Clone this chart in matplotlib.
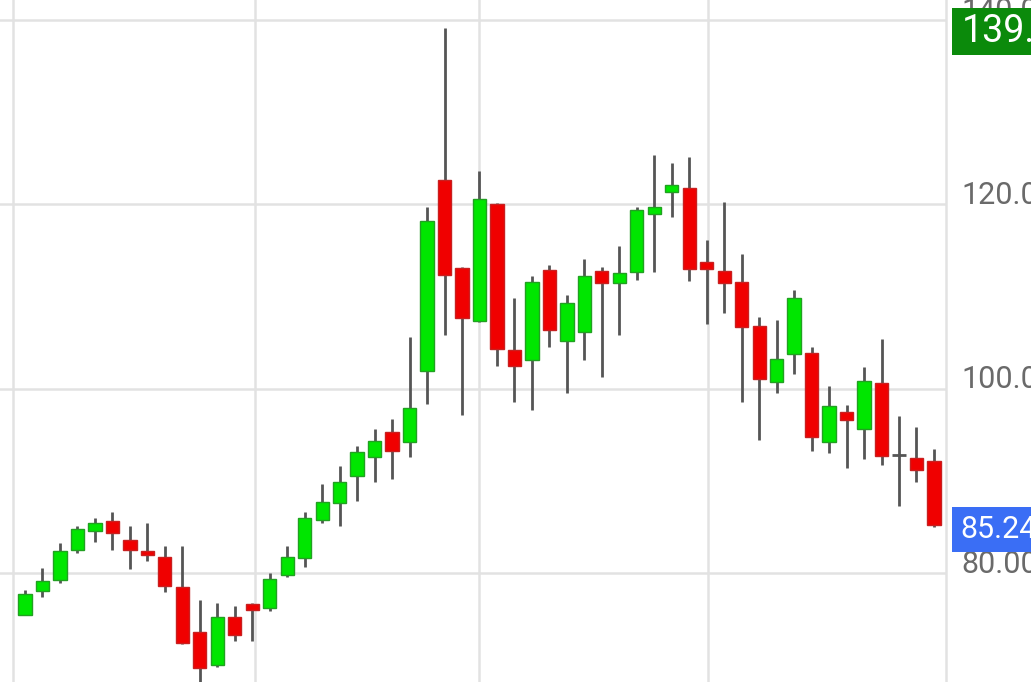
import numpy as np
import matplotlib.pyplot as plt
from matplotlib.patches import Rectangle

# OHLC weekly candles
opens = [75.5, 78.05, 79.2, 82.5, 84.6, 85.6, 83.6, 82.4, 81.7, 78.5,
         73.6, 70.0, 75.2, 76.6, 76.2, 79.8, 81.6, 85.8, 87.6, 90.5,
         92.6, 95.3, 94.2, 101.9, 122.6, 113.1, 107.3, 120.0, 104.2, 103.1,
         112.9, 105.2, 106.2, 112.8, 111.5, 112.7, 119.0, 121.3, 121.8, 113.7,
         112.8, 111.6, 106.8, 100.7, 103.8, 103.9, 94.2, 97.5, 95.6, 100.6,
         92.8, 92.5, 92.2]
highs = [78.2, 80.5, 83.3, 85.1, 86.0, 86.6, 85.1, 85.4, 82.9, 82.9,
         77.1, 76.8, 76.4, 76.8, 80.0, 82.9, 86.6, 89.7, 91.6, 93.8,
         95.6, 96.7, 105.6, 119.7, 139.1, 113.2, 123.6, 120.1, 109.8, 112.2,
         113.4, 110.2, 114.1, 113.2, 115.5, 119.7, 125.4, 124.5, 125.1, 116.1,
         120.3, 114.6, 107.8, 107.5, 110.7, 104.5, 100.3, 98.2, 102.4, 105.4,
         97.0, 95.8, 93.5]
lows = [75.4, 77.4, 78.9, 82.2, 83.4, 82.5, 80.4, 81.3, 77.9, 72.3,
        67.5, 69.8, 72.6, 72.6, 75.9, 79.6, 80.7, 85.4, 85.1, 87.8,
        89.9, 90.2, 92.6, 98.3, 105.8, 97.1, 107.2, 102.5, 98.6, 97.7,
        104.5, 99.5, 103.1, 101.3, 105.8, 111.8, 112.7, 118.6, 111.7, 107.0,
        108.2, 98.6, 94.4, 99.5, 101.6, 93.2, 93.0, 91.4, 92.4, 91.7,
        87.3, 89.9, 85.0]
closes = [77.7, 79.1, 82.4, 84.8, 85.4, 84.3, 82.5, 82.0, 78.6, 72.4,
          69.7, 75.2, 73.3, 76.0, 79.4, 81.7, 86.0, 87.7, 89.9, 93.1,
          94.3, 93.2, 97.9, 118.2, 112.3, 107.7, 120.6, 104.3, 102.5, 111.6,
          106.4, 109.3, 112.2, 111.5, 112.6, 119.4, 119.7, 122.1, 113.0, 113.0,
          111.5, 106.7, 101.1, 103.2, 109.8, 94.8, 98.1, 96.6, 100.8, 92.7,
          92.8, 91.2, 85.24]

y_ticks = [80, 100, 120, 140]
y_labels = ['80.00', '100.00', '120.00', '140.00']
quarter_lines = [-0.7, 13.15, 26.0, 39.05]
last_high = '139.1'
last_close = '85.24'

up_face, up_edge = '#00e600', '#22a022'
dn_face, dn_edge = '#f00000', '#c82020'
wick_col = '#555555'
grid_col = '#e2e2e2'

W, H = 1031, 682
fig = plt.figure(figsize=(W / 100, H / 100), dpi=100)
ax = fig.add_axes([0, 0, 946 / W, 1])
ax.set_xlim(-1.43, 52.69)
ax.set_ylim(68.18, 142.17)

for v in y_ticks:
    ax.axhline(v, color=grid_col, lw=1.8, zorder=0)
for q in quarter_lines:
    ax.axvline(q, color=grid_col, lw=1.8, zorder=0)

x = np.arange(len(opens))
o = np.array(opens)
c = np.array(closes)
ax.vlines(x, lows, highs, color=wick_col, lw=2.0, zorder=1)

up = c > o
dn = c < o
body_w = 0.76
ax.bar(x[up], (c - o)[up], bottom=o[up], width=body_w,
       color=up_face, edgecolor=up_edge, lw=1.0, zorder=2)
ax.bar(x[dn], (o - c)[dn], bottom=c[dn], width=body_w,
       color=dn_face, edgecolor=dn_edge, lw=1.0, zorder=2)
# doji
for i in x[c == o]:
    ax.hlines(o[i], i - body_w / 2, i + body_w / 2, color=wick_col, lw=2.0, zorder=2)

for s in ['top', 'left', 'bottom']:
    ax.spines[s].set_visible(False)
ax.spines['right'].set_color(grid_col)
ax.spines['right'].set_linewidth(1.8)
ax.set_xticks([])
ax.set_yticks([])

# price scale labels on the right (cut off by the figure edge)
to_fig = lambda v: (v - 68.18) / (142.17 - 68.18)
for v, lab in zip(y_ticks, y_labels):
    fig.text(961 / W, to_fig(v + 0.95), lab, fontsize=22, color='#6a6a6a',
             family='Roboto', va='center', ha='left', zorder=1)

# last-value tags
fig.add_artist(Rectangle((952 / W, 1 - 55 / H), 80 / W, 47 / H,
                         transform=fig.transFigure, fc='#0b8a0b', ec='none', zorder=3))
fig.text(962 / W, 1 - 32 / H, last_high, fontsize=27, color='white',
         family='Roboto', va='center', ha='left', zorder=4)
fig.add_artist(Rectangle((952 / W, 1 - 552 / H), 80 / W, 45 / H,
                         transform=fig.transFigure, fc='#3a6ef5', ec='none', zorder=3))
fig.text(960 / W, 1 - 530 / H, last_close, fontsize=22, color='white',
         family='Roboto', va='center', ha='left', zorder=4)

fig.savefig('out.png', dpi=100)
